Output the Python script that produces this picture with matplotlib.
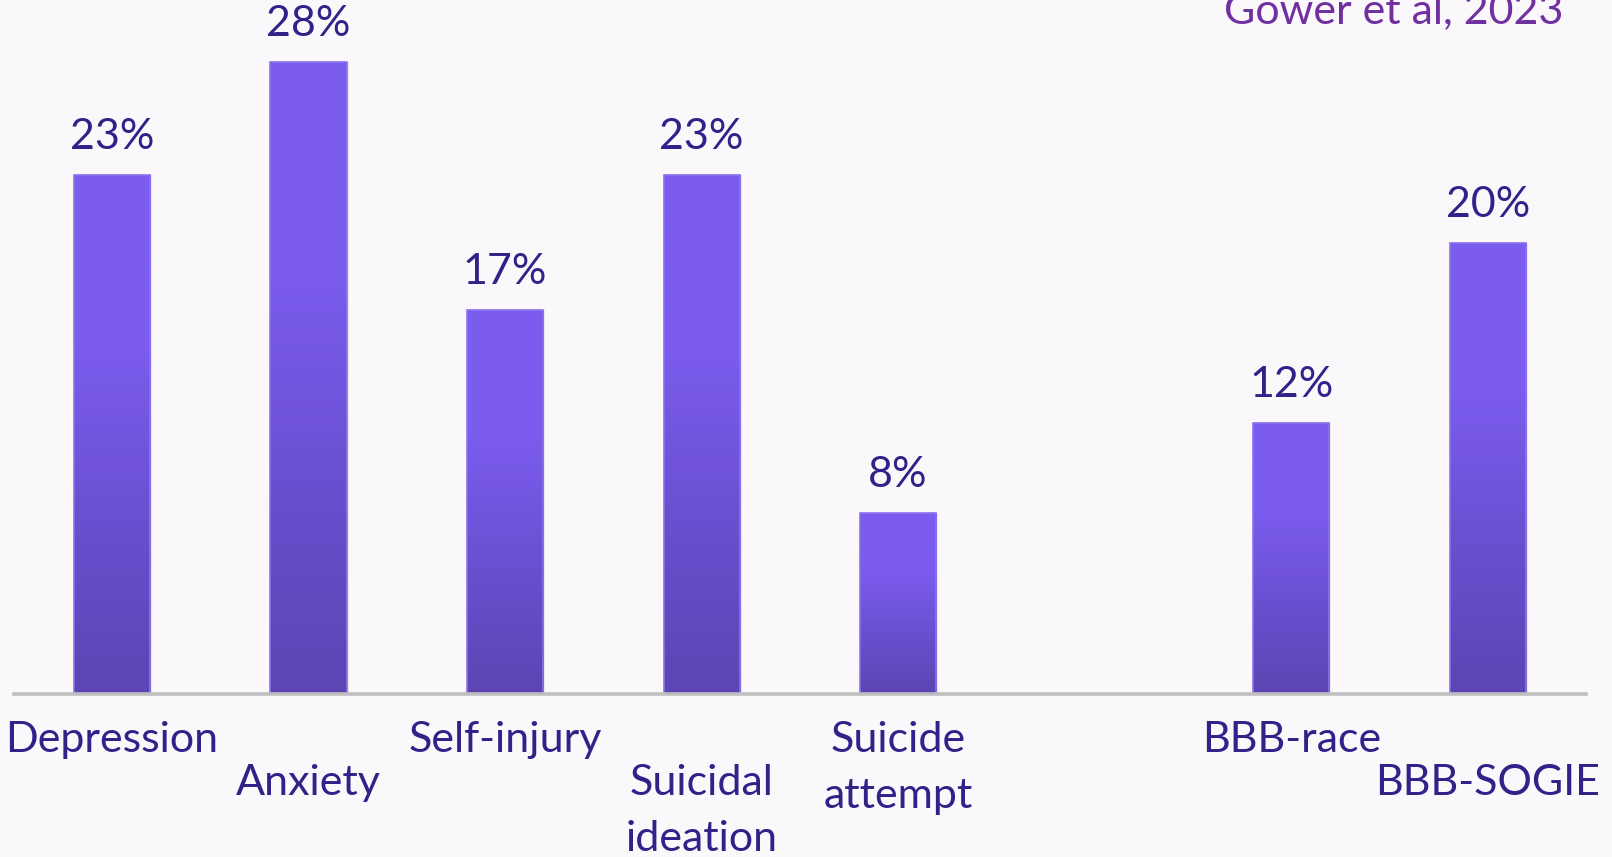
import matplotlib
matplotlib.use("Agg")
import matplotlib.pyplot as plt
import numpy as np
from matplotlib.colors import LinearSegmentedColormap

categories = ["Depression", "Anxiety", "Self-injury", "Suicidal\nideation",
              "Suicide\nattempt", "", "BBB-race", "BBB-SOGIE"]
values = [23, 28, 17, 23, 8, None, 12, 20]
value_labels = ["23%", "28%", "17%", "23%", "8%", "", "12%", "20%"]
label_row = [0, 1, 0, 1, 0, 0, 0, 1]
source = "Gower et al, 2023"

BG = "#FAF8FA"
TXT = "#33218A"
FS = 31
plt.rcParams['font.family'] = ['Lato', 'DejaVu Sans']

W, H = 1612, 857
fig = plt.figure(figsize=(W / 100, H / 100), dpi=100, facecolor=BG)
ax_left, ax_right = 13.7, 1586.0
ax_bottom = 693.5
ax = fig.add_axes([ax_left / W, (H - ax_bottom) / H, (ax_right - ax_left) / W, ax_bottom / H])
ax.set_facecolor(BG)
ax.set_xlim(-0.5, 7.5)
ax.set_ylim(0, 30.77)
for s in ax.spines.values():
    s.set_visible(False)
ax.set_xticks([])
ax.set_yticks([])
ax.axhline(0, color="#BFBFBF", lw=2.6, zorder=4, clip_on=False)

cmap = LinearSegmentedColormap.from_list("g", ["#5D45B3", "#6A4FD0", "#7B5CEE", "#7B5CEE"])
grad = np.linspace(0, 1, 256).reshape(-1, 1)
w = 0.387
for i, v in enumerate(values):
    if v is None:
        continue
    bar = ax.bar(i, v, width=w, color="none", edgecolor="#8A72EC", lw=1.2, zorder=3)[0]
    ax.bar(i + 0.01, v, width=w, color="#00000010", edgecolor="none", zorder=1)
    im = ax.imshow(grad, cmap=cmap, aspect="auto", origin="lower",
                   extent=(i - w / 2, i + w / 2, 0, v), zorder=2)
    im.set_clip_path(bar)
    ax.text(i, v + 0.85, value_labels[i], ha="center", va="bottom",
            fontsize=FS, color=TXT)

ax.set_xlim(-0.5, 7.5)
ax.set_ylim(0, 30.77)

# category labels (staggered rows, one text per line)
row_base = [752, 795]
line_gap = 56
for i, c in enumerate(categories):
    if not c:
        continue
    xpix = ax_left + (i + 0.5) / 8.0 * (ax_right - ax_left)
    for k, line in enumerate(c.split("\n")):
        ypix = row_base[label_row[i]] + k * line_gap
        fig.text(xpix / W, 1 - ypix / H, line, ha="center", va="baseline",
                 fontsize=FS, color=TXT)

fig.text(1563 / W, 1 - 23 / H, source, ha="right", va="baseline",
         fontsize=FS, color="#7030A0")

fig.savefig("out.png", dpi=100, facecolor=BG)
